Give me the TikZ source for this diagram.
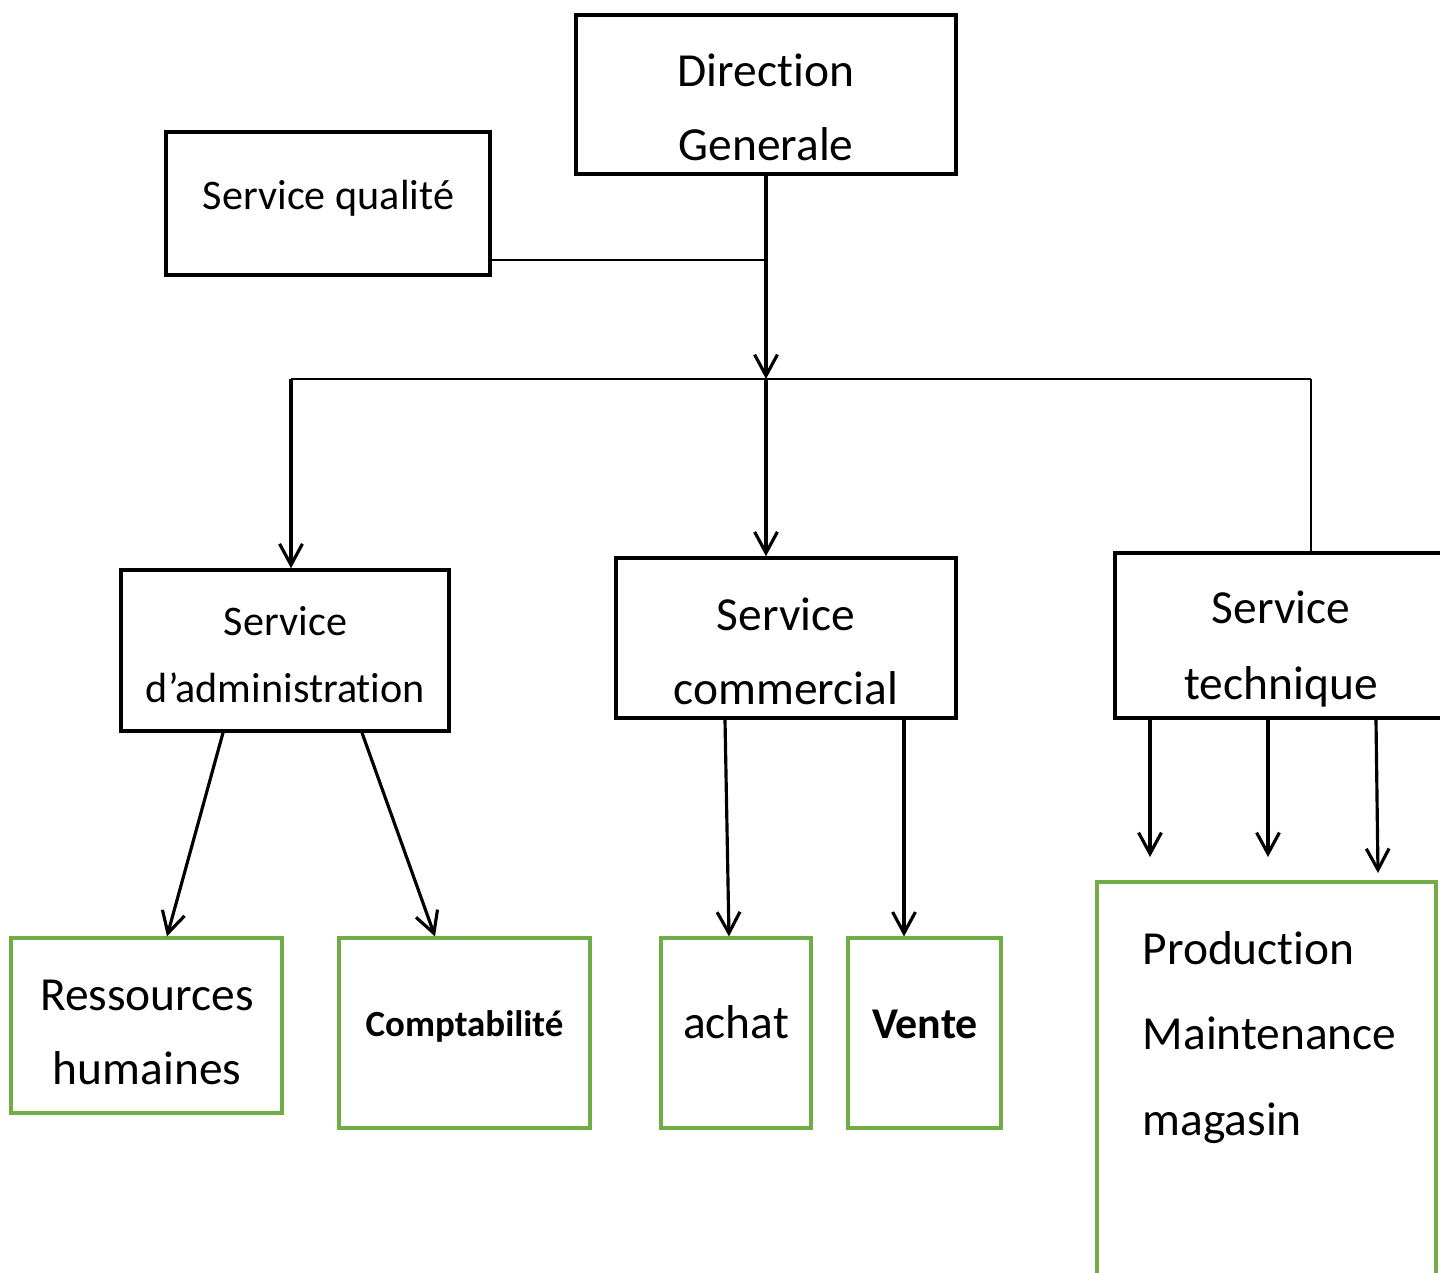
\documentclass[tikz,border=0pt]{standalone}
\usepackage{fontspec}
\setmainfont{Carlito}[Ligatures=NoCommon]
\usetikzlibrary{arrows.meta,calc,positioning}
\definecolor{boxgreen}{RGB}{112,173,71}

\begin{document}
\begin{tikzpicture}
	\useasboundingbox (0,0) rectangle (14.4,-12.73);

	\begin{scope}[every node/.style={draw,line width=1pt,inner sep=0pt}]
		\node[minimum width=3.80cm,minimum height=1.59cm] (dg) at (7.66,-0.945) {};
		\node[minimum width=3.24cm,minimum height=1.43cm] (sq) at (3.28,-2.035) {};
		\node[minimum width=3.28cm,minimum height=1.61cm] (adm) at (2.85,-6.505) {};
		\node[minimum width=3.40cm,minimum height=1.60cm] (com) at (7.86,-6.38) {};
		\node[minimum width=3.32cm,minimum height=1.65cm] (tech) at (12.81,-6.355) {};
	\end{scope}

	\begin{scope}[every node/.style={draw=boxgreen,line width=0.9pt,inner sep=0pt}]
		\node[minimum width=2.71cm,minimum height=1.75cm] (rh) at (1.465,-10.255) {};
		\node[minimum width=2.51cm,minimum height=1.90cm] (cpt) at (4.645,-10.33) {};
		\node[minimum width=1.50cm,minimum height=1.90cm] (ach) at (7.36,-10.33) {};
		\node[minimum width=1.53cm,minimum height=1.90cm] (vte) at (9.245,-10.33) {};
		\node[minimum width=3.39cm,minimum height=4.40cm] (prod) at (12.665,-11.02) {};
	\end{scope}

	\begin{scope}[every node/.style={anchor=base,align=center,inner sep=0pt}]
		\node[font=\fontsize{13.5}{21}\selectfont] (dg-t) at (7.66,-1.60) {Direction\\Generale};
		\node[font=\fontsize{12}{19}\selectfont] (sq-t) at (3.285,-2.09) {Service qualité};
		\node[font=\fontsize{12}{19}\selectfont] (adm-t) at (2.855,-7.02) {Service\\d’administration};
		\node[font=\fontsize{13.5}{21}\selectfont] (com-t) at (7.86,-7.04) {Service\\commercial};
		\node[font=\fontsize{13.5}{21.5}\selectfont] (tech-t) at (12.81,-6.99) {Service\\technique};
		\node[font=\fontsize{13.5}{21}\selectfont] (rh-t) at (1.47,-10.84) {Ressources\\humaines};
		\node[font=\fontsize{10.5}{13}\selectfont\bfseries] (cpt-t) at (4.645,-10.36) {Comptabilité};
		\node[font=\fontsize{13.5}{21}\selectfont] (ach-t) at (7.36,-10.38) {achat};
		\node[font=\fontsize{12.5}{15}\selectfont\bfseries] (vte-t) at (9.25,-10.38) {Vente};
		\node[font=\fontsize{13.5}{24.2}\selectfont,anchor=base west,align=left] (prod-t) at (11.42,-11.35) {Production\\Maintenance\\magasin};
	\end{scope}

	\coordinate (jq) at (7.67,-2.60);
	\coordinate (hub) at (7.66,-3.79);
	\coordinate (hl) at (2.91,-3.79);
	\coordinate (hr) at (13.11,-3.79);
	\coordinate (p1) at (11.50,-8.57);
	\coordinate (p2) at (12.68,-8.57);
	\coordinate (p3) at (13.78,-8.73);

	\begin{scope}[line width=0.5pt]
		\path (sq.east |- jq) edge (jq);
		\path (hl) edge (hr);
		\path (hr) edge ([yshift=-0.03cm]hr |- tech.north);
	\end{scope}

	\begin{scope}[>={Straight Barb[length=6pt,width=6.5pt]},line width=0.9pt]
		\path (dg.south) edge[->] (hub);
		\path (hub) edge[->] (hub |- com.north);
		\path (hl) edge[->] (hl |- adm.north);

		\path ([xshift=-0.62cm]adm.south) edge[->] ([xshift=0.205cm]rh.north);
		\path ([xshift=0.77cm]adm.south) edge[->] ([xshift=-0.295cm]cpt.north);

		\path ([xshift=-0.61cm]com.south) edge[->] ([xshift=-0.07cm]ach.north);
		\path ([xshift=1.18cm]com.south) edge[->] ([xshift=-0.205cm]vte.north);

		\path (tech.south -| p1) edge[->] (p1);
		\path (tech.south -| p2) edge[->] (p2);
		\path ([xshift=-0.02cm]tech.south -| p3) edge[->] (p3);
	\end{scope}
\end{tikzpicture}
\end{document}
